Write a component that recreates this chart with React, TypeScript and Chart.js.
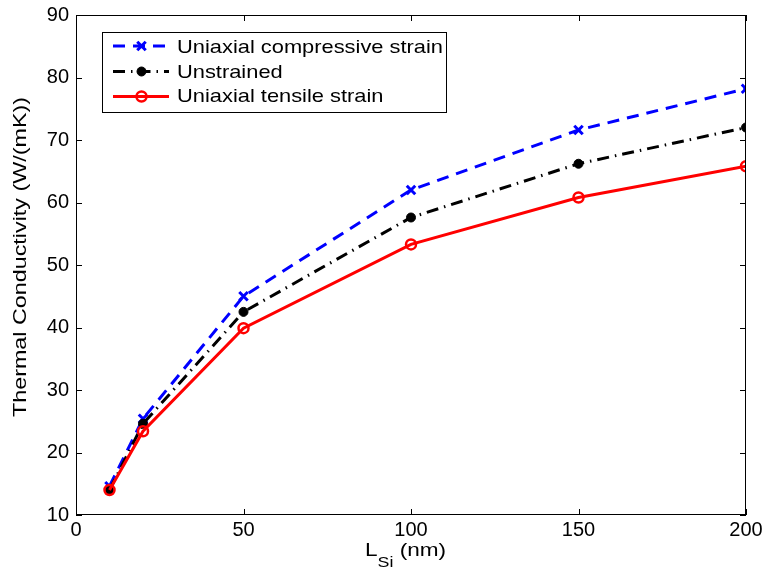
import React, { useEffect, useRef } from "react";
import { Chart, registerables } from "chart.js";

Chart.register(...registerables);

const lengths = [10, 20, 50, 100, 150, 200];
const compressive = [14.6, 25.4, 45.0, 62.0, 71.6, 78.2];
const unstrained = [14.0, 24.6, 42.5, 57.6, 66.2, 72.0];
const tensile = [14.0, 23.4, 39.9, 53.3, 60.8, 65.8];
const seriesNames = ["Uniaxial compressive strain", "Unstrained", "Uniaxial tensile strain"];
const xTicks = [0, 50, 100, 150, 200];
const yTicks = [10, 20, 30, 40, 50, 60, 70, 80, 90];
const yTitle = "Thermal Conductivity (W/(mK))";
const xTitleMain = "L";
const xTitleSub = "Si";
const xTitleRest = " (nm)";

const FONT = "'Liberation Sans', Arial, Helvetica, sans-serif";

const toPoints = (ys: number[]) => lengths.map((x, i) => ({ x, y: ys[i] }));

const framePlugin = {
  id: "matlabFrame",
  afterDraw(chart: any) {
    const ctx = chart.ctx;
    const { left, right, top, bottom } = chart.chartArea;
    const xs = chart.scales.x;
    const ys = chart.scales.y;
    ctx.save();
    ctx.strokeStyle = "#000";
    ctx.lineWidth = 1;
    ctx.setLineDash([]);
    ctx.strokeRect(left + 0.5, top + 0.5, right - left - 1, bottom - top - 1);
    const tl = 6;
    ctx.beginPath();
    xTicks.forEach((v) => {
      const px = Math.round(xs.getPixelForValue(v)) + 0.5;
      ctx.moveTo(px, bottom);
      ctx.lineTo(px, bottom - tl);
      ctx.moveTo(px, top);
      ctx.lineTo(px, top + tl);
    });
    yTicks.forEach((v) => {
      const py = Math.round(ys.getPixelForValue(v)) + 0.5;
      ctx.moveTo(left, py);
      ctx.lineTo(left + tl, py);
      ctx.moveTo(right, py);
      ctx.lineTo(right - tl, py);
    });
    ctx.stroke();

    // y title (slightly stretched horizontally to match reference)
    ctx.fillStyle = "#000";
    ctx.font = `18px ${FONT}`;
    ctx.textAlign = "center";
    ctx.textBaseline = "alphabetic";
    const yw = ctx.measureText(yTitle).width;
    const ysx = 320 / yw;
    ctx.save();
    ctx.translate(26, 257);
    ctx.rotate(-Math.PI / 2);
    ctx.scale(ysx, 1);
    ctx.fillText(yTitle, 0, 0);
    ctx.restore();

    // x title with subscript
    const mainFont = `19px ${FONT}`;
    const subFont = `15px ${FONT}`;
    ctx.textAlign = "left";
    ctx.textBaseline = "alphabetic";
    ctx.font = mainFont;
    const w1 = ctx.measureText(xTitleMain).width;
    const w3 = ctx.measureText(xTitleRest).width;
    ctx.font = subFont;
    const w2 = ctx.measureText(xTitleSub).width;
    const total = w1 + w2 + w3;
    const xsx = 81 / total;
    ctx.save();
    ctx.translate(365, 556);
    ctx.scale(xsx, 1);
    let x0 = 0;
    ctx.font = mainFont;
    ctx.fillText(xTitleMain, x0, 0);
    x0 += w1;
    ctx.font = subFont;
    ctx.fillText(xTitleSub, x0, 11);
    x0 += w2;
    ctx.font = mainFont;
    ctx.fillText(xTitleRest, x0, 0);
    ctx.restore();

    // legend
    const bx = 102, by = 32, bw = 344, bh = 80;
    ctx.fillStyle = "#fff";
    ctx.fillRect(bx, by, bw, bh);
    ctx.strokeStyle = "#000";
    ctx.lineWidth = 1;
    ctx.strokeRect(bx + 0.5, by + 0.5, bw, bh);
    const rows = [46, 71.5, 96.5];
    const baselines = [53, 77.5, 102];
    ctx.font = `19px ${FONT}`;
    const lsx = 266 / ctx.measureText(seriesNames[0]).width;
    chart.data.datasets.forEach((ds: any, i: number) => {
      const y = rows[i];
      ctx.save();
      ctx.strokeStyle = ds.borderColor;
      ctx.lineWidth = ds.borderWidth;
      ctx.setLineDash(ds.borderDash || []);
      ctx.beginPath();
      ctx.moveTo(113, y);
      ctx.lineTo(169, y);
      ctx.stroke();
      ctx.setLineDash([]);
      const cx = 141.5;
      ctx.lineWidth = ds.pointBorderWidth;
      ctx.strokeStyle = ds.pointBorderColor;
      ctx.fillStyle = ds.pointBackgroundColor;
      if (ds.pointStyle === "crossRot") {
        const r = ds.pointRadius * 0.707;
        ctx.beginPath();
        ctx.moveTo(cx - r, y - r);
        ctx.lineTo(cx + r, y + r);
        ctx.moveTo(cx + r, y - r);
        ctx.lineTo(cx - r, y + r);
        ctx.stroke();
      } else {
        ctx.beginPath();
        ctx.arc(cx, y, ds.pointRadius, 0, Math.PI * 2);
        ctx.fill();
        ctx.stroke();
      }
      ctx.restore();
      ctx.save();
      ctx.fillStyle = "#000";
      ctx.font = `19px ${FONT}`;
      ctx.textAlign = "left";
      ctx.textBaseline = "alphabetic";
      ctx.translate(177, baselines[i]);
      ctx.scale(lsx, 1);
      ctx.fillText(seriesNames[i], 0, 0);
      ctx.restore();
    });
    ctx.restore();
  },
};

export default function App() {
  const ref = useRef<HTMLCanvasElement>(null);
  useEffect(() => {
    if (!ref.current) return;
    const chart = new Chart(ref.current, {
      type: "line",
      data: {
        datasets: [
          {
            label: seriesNames[0],
            data: toPoints(compressive),
            borderColor: "#0000ff",
            borderWidth: 3,
            borderDash: [12, 8],
            pointStyle: "crossRot",
            pointRadius: 6,
            pointBorderWidth: 3,
            pointBorderColor: "#0000ff",
            pointBackgroundColor: "#0000ff",
            fill: false,
            tension: 0,
            order: 3,
          },
          {
            label: seriesNames[1],
            data: toPoints(unstrained),
            borderColor: "#000000",
            borderWidth: 3,
            borderDash: [12, 6, 1.5, 6],
            pointStyle: "circle",
            pointRadius: 4.5,
            pointBorderWidth: 1,
            pointBorderColor: "#000000",
            pointBackgroundColor: "#000000",
            fill: false,
            tension: 0,
            order: 2,
          },
          {
            label: seriesNames[2],
            data: toPoints(tensile),
            borderColor: "#ff0000",
            borderWidth: 3,
            borderDash: [],
            pointStyle: "circle",
            pointRadius: 5,
            pointBorderWidth: 2.5,
            pointBorderColor: "#ff0000",
            pointBackgroundColor: "rgba(0,0,0,0)",
            fill: false,
            tension: 0,
            order: 1,
          },
        ],
      },
      options: {
        animation: false,
        responsive: false,
        events: [],
        layout: { padding: { top: 15, right: 20, left: 0, bottom: 0 } },
        plugins: { legend: { display: false }, tooltip: { enabled: false } },
        scales: {
          x: {
            type: "linear",
            min: 0,
            max: 200,
            afterBuildTicks: (s: any) => {
              s.ticks = xTicks.map((v) => ({ value: v }));
            },
            afterFit: (s: any) => {
              s.height = 56;
              s.paddingLeft = 0;
              s.paddingRight = 0;
            },
            grid: { display: false, drawTicks: false },
            border: { display: false },
            ticks: {
              color: "#000",
              font: { family: FONT, size: 20 },
              padding: 3,
              maxRotation: 0,
            },
          },
          y: {
            type: "linear",
            min: 10,
            max: 90,
            afterBuildTicks: (s: any) => {
              s.ticks = yTicks.map((v) => ({ value: v }));
            },
            afterFit: (s: any) => {
              s.width = 76;
              s.paddingTop = 0;
              s.paddingBottom = 0;
            },
            grid: { display: false, drawTicks: false },
            border: { display: false },
            ticks: {
              color: "#000",
              font: { family: FONT, size: 20 },
              padding: 7,
            },
          },
        },
      },
      plugins: [framePlugin],
    });
    return () => chart.destroy();
  }, []);
  return (
    <div style={{ position: "absolute", left: 0, top: 0, width: 766, height: 571, background: "#fff" }}>
      <canvas ref={ref} width={766} height={571} />
    </div>
  );
}
